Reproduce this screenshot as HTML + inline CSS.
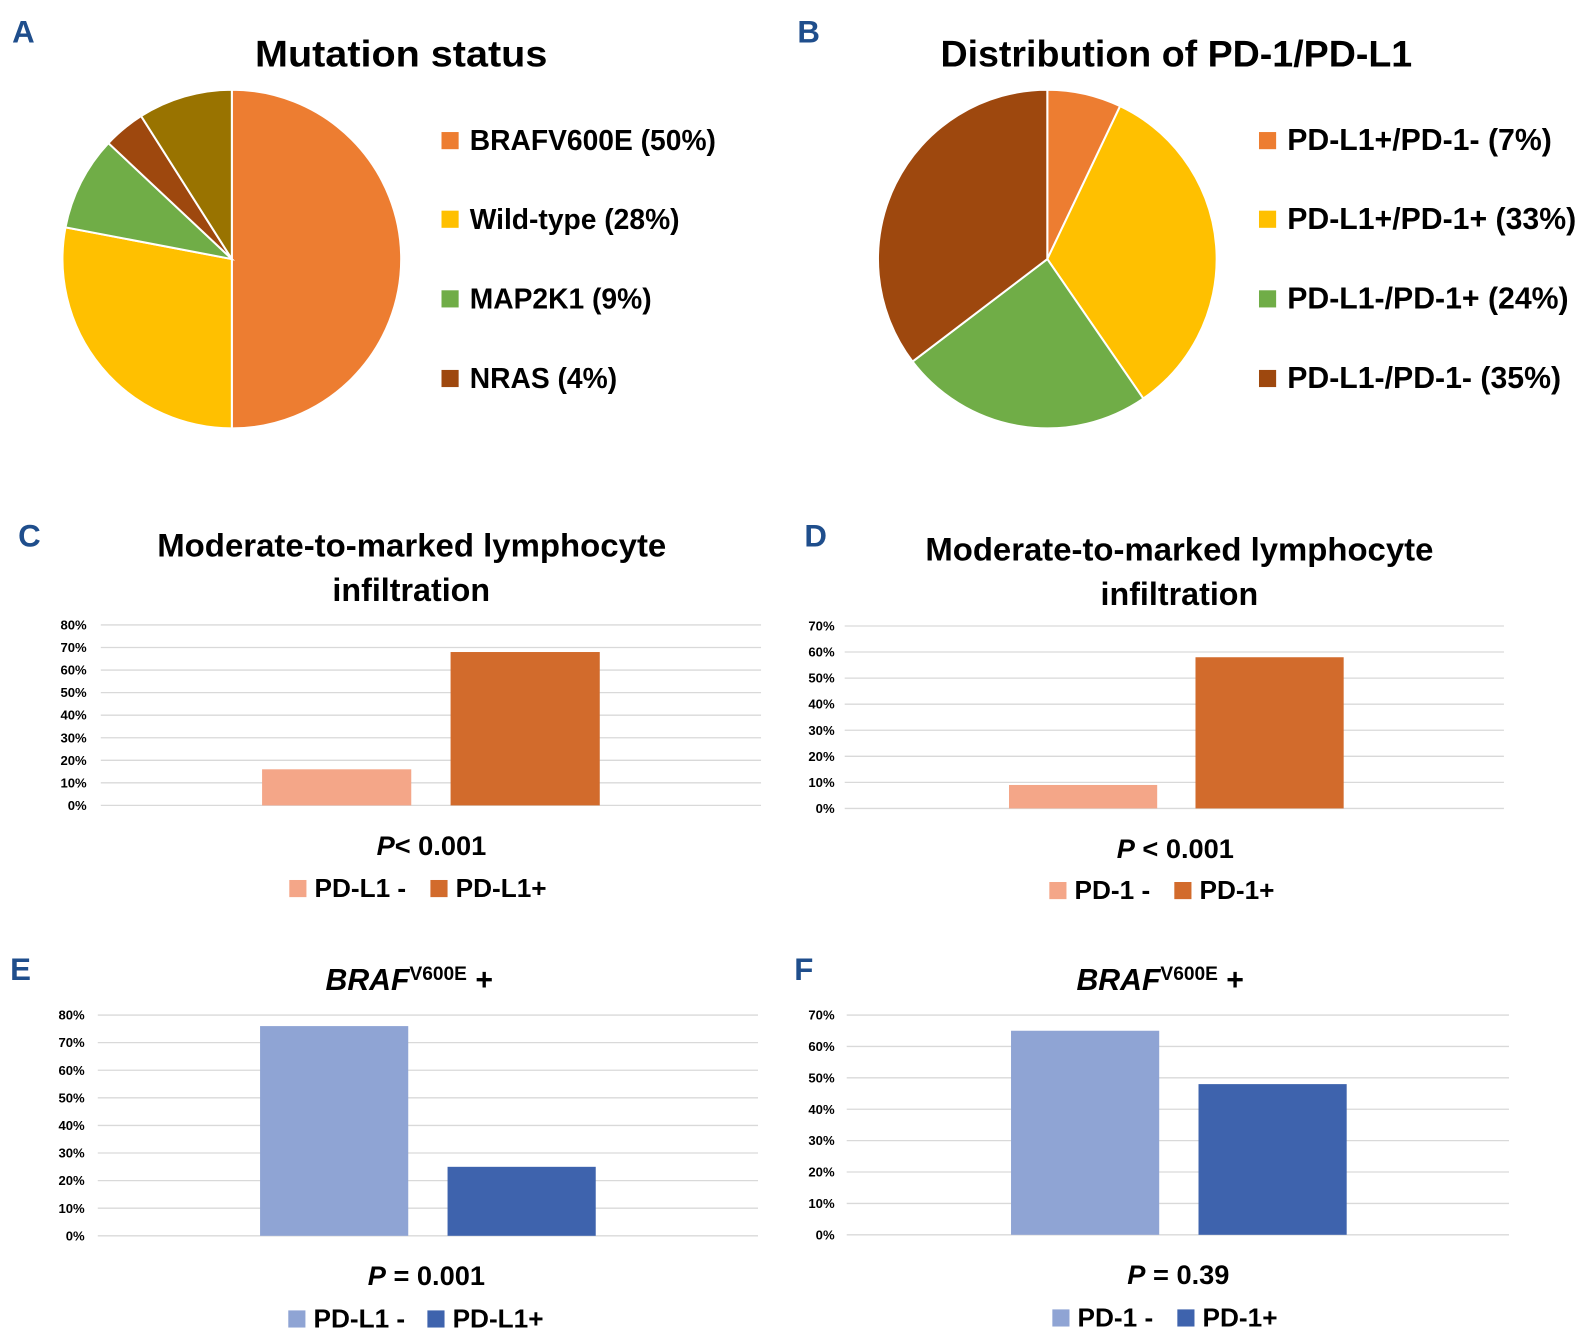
<!DOCTYPE html>
<html><head><meta charset="utf-8"><style>
html,body{margin:0;padding:0;background:#fff;}
svg{display:block;font-family:"Liberation Sans",sans-serif;}
.t{font-weight:bold;fill:#000;}
.lbl{font-weight:bold;fill:#1f4e8c;font-size:31px;}
</style></head><body>
<svg id="fig" width="1581" height="1342" viewBox="0 0 1581 1342" xmlns="http://www.w3.org/2000/svg">
<g transform="scale(1.008)">
<text class="lbl" x="12" y="42">A</text>
<text class="lbl" x="791" y="42">B</text>
<text class="lbl" x="18" y="542">C</text>
<text class="lbl" x="798" y="542">D</text>
<text class="lbl" x="10" y="972">E</text>
<text class="lbl" x="788" y="972">F</text>
<text class="t" x="253" y="66" font-size="37" textLength="290" lengthAdjust="spacingAndGlyphs">Mutation status</text>
<text class="t" x="933" y="66" font-size="37" textLength="468" lengthAdjust="spacingAndGlyphs">Distribution of PD-1/PD-L1</text>
<text class="t" x="156" y="552" font-size="32" textLength="505" lengthAdjust="spacingAndGlyphs">Moderate-to-marked lymphocyte</text>
<text class="t" x="408" y="596" font-size="32" text-anchor="middle">infiltration</text>
<text class="t" x="918" y="556" font-size="32" textLength="504" lengthAdjust="spacingAndGlyphs">Moderate-to-marked lymphocyte</text>
<text class="t" x="1170" y="600" font-size="32" text-anchor="middle">infiltration</text>
<text class="t" x="406" y="982" font-size="30" text-anchor="middle"><tspan font-style="italic">BRAF</tspan><tspan font-size="19" dy="-10">V600E</tspan><tspan dy="10"> +</tspan></text>
<text class="t" x="1151" y="982" font-size="30" text-anchor="middle"><tspan font-style="italic">BRAF</tspan><tspan font-size="19" dy="-10">V600E</tspan><tspan dy="10"> +</tspan></text>
<text class="t" x="428" y="848" font-size="27" text-anchor="middle"><tspan font-style="italic">P</tspan>&lt; 0.001</text>
<text class="t" x="1166" y="851" font-size="27" text-anchor="middle"><tspan font-style="italic">P</tspan> &lt; 0.001</text>
<text class="t" x="423" y="1275" font-size="27" text-anchor="middle"><tspan font-style="italic">P</tspan> = 0.001</text>
<text class="t" x="1169" y="1274" font-size="27" text-anchor="middle"><tspan font-style="italic">P</tspan> = 0.39</text>
<g id="layer"></g>
</g>
</svg>
<script>
// Pie A data
const pieACats = ["BRAFV600E (50%)", "Wild-type (28%)", "MAP2K1 (9%)", "NRAS (4%)", "Other"];
const pieAVals = [50, 28, 9, 4, 9];
const pieAColors = ["#ed7d31", "#ffc000", "#70ad47", "#9e480e", "#997300"];
// Pie B data
const pieBCats = ["PD-L1+/PD-1- (7%)", "PD-L1+/PD-1+ (33%)", "PD-L1-/PD-1+ (24%)", "PD-L1-/PD-1- (35%)"];
const pieBVals = [7, 33, 24, 35];
const pieBColors = ["#ed7d31", "#ffc000", "#70ad47", "#9e480e"];
// Bar charts data
const barCCats = ["PD-L1 -", "PD-L1+"];
const barCVals = [16, 68];
const barCTicks = ["0%","10%","20%","30%","40%","50%","60%","70%","80%"];
const barDCats = ["PD-1 -", "PD-1+"];
const barDVals = [9, 58];
const barDTicks = ["0%","10%","20%","30%","40%","50%","60%","70%"];
const barECats = ["PD-L1 -", "PD-L1+"];
const barEVals = [76, 25];
const barETicks = ["0%","10%","20%","30%","40%","50%","60%","70%","80%"];
const barFCats = ["PD-1 -", "PD-1+"];
const barFVals = [65, 48];
const barFTicks = ["0%","10%","20%","30%","40%","50%","60%","70%"];

const NS = "http://www.w3.org/2000/svg";
const layer = document.getElementById("layer");
function mk(tag, attrs, parent) {
  const e = document.createElementNS(NS, tag);
  for (const k in attrs) e.setAttribute(k, attrs[k]);
  (parent || layer).appendChild(e);
  return e;
}

function pie(id, cx, cy, r, vals, colors, cats, legX, legYs, legendCount, fs) {
  const total = vals.reduce((a, b) => a + b, 0);
  let a0 = 0;
  const g = mk("g", {});
  
  
  vals.forEach((v, i) => {
    const a1 = a0 + v / total * 2 * Math.PI;
    const x0 = cx + r * Math.sin(a0), y0 = cy - r * Math.cos(a0);
    const x1 = cx + r * Math.sin(a1), y1 = cy - r * Math.cos(a1);
    const large = (a1 - a0) > Math.PI ? 1 : 0;
    const p = mk("path", {d: `M${cx},${cy} L${x0},${y0} A${r},${r} 0 ${large} 1 ${x1},${y1} Z`, fill: colors[i], stroke: "#fff", "stroke-width": 2}, g);
    
    
    a0 = a1;
  });
  for (let i = 0; i < legendCount; i++) {
    const y = legYs[i];
    const s = mk("rect", {x: legX, y: y - 8, width: 17, height: 17, fill: colors[i]});
    
    
    const t = mk("text", {x: legX + 28, y: y + 10, "font-size": fs, "font-weight": "bold"});
    t.textContent = cats[i];
    
    
  }
}
pie("pie-a", 230, 257, 168, pieAVals, pieAColors, pieACats, 438, [139, 217, 296, 375], 4, 28);
pie("pie-b", 1039, 257, 168, pieBVals, pieBColors, pieBCats, 1249, [139, 217, 296, 375], 4, 30);

function bar(id, o) {
  const n = o.ticks.length - 1;
  const max = n * 10;
  const y = v => o.y0 - v / max * (o.y0 - o.yTop);
  o.ticks.forEach((tk, i) => {
    const yy = y(i * 10);
    const l = mk("line", {x1: o.x0, x2: o.x1, y1: yy, y2: yy, stroke: "#d9d9d9", "stroke-width": 1.3});
    
    
    const t = mk("text", {x: o.tickX, y: yy + 4.5, "font-size": 13, "font-weight": "bold", "text-anchor": "end"});
    t.textContent = tk;
    
    
  });
  o.vals.forEach((v, i) => {
    const bx = o.barX[i];
    const r = mk("rect", {x: bx, y: y(v), width: o.bw, height: y(0) - y(v), fill: o.colors[i]});
    
    
    const s = mk("rect", {x: o.legX[i], y: o.legY - 17, width: 17, height: 17, fill: o.colors[i]});
    
    
    const t = mk("text", {x: o.legX[i] + 25, y: o.legY, "font-size": 26, "font-weight": "bold"});
    t.textContent = o.cats[i];
    
    
  });
}
bar("chart-c", {vals: barCVals, cats: barCCats, ticks: barCTicks, x0: 100, x1: 755, y0: 799, yTop: 620, tickX: 86, barX: [260, 447], bw: 148, colors: ["#f4a688", "#d26b2c"], legX: [287, 427], legY: 890});
bar("chart-d", {vals: barDVals, cats: barDCats, ticks: barDTicks, x0: 838, x1: 1492, y0: 802, yTop: 621, tickX: 828, barX: [1001, 1186], bw: 147, colors: ["#f4a688", "#d26b2c"], legX: [1041, 1165], legY: 892});
bar("chart-e", {vals: barEVals, cats: barECats, ticks: barETicks, x0: 97, x1: 752, y0: 1226, yTop: 1007, tickX: 84, barX: [258, 444], bw: 147, colors: ["#8fa4d4", "#3e63ad"], legX: [286, 424], legY: 1317});
bar("chart-f", {vals: barFVals, cats: barFCats, ticks: barFTicks, x0: 840, x1: 1497, y0: 1225, yTop: 1007, tickX: 828, barX: [1003, 1189], bw: 147, colors: ["#8fa4d4", "#3e63ad"], legX: [1044, 1168], legY: 1316});
</script>
</body></html>
